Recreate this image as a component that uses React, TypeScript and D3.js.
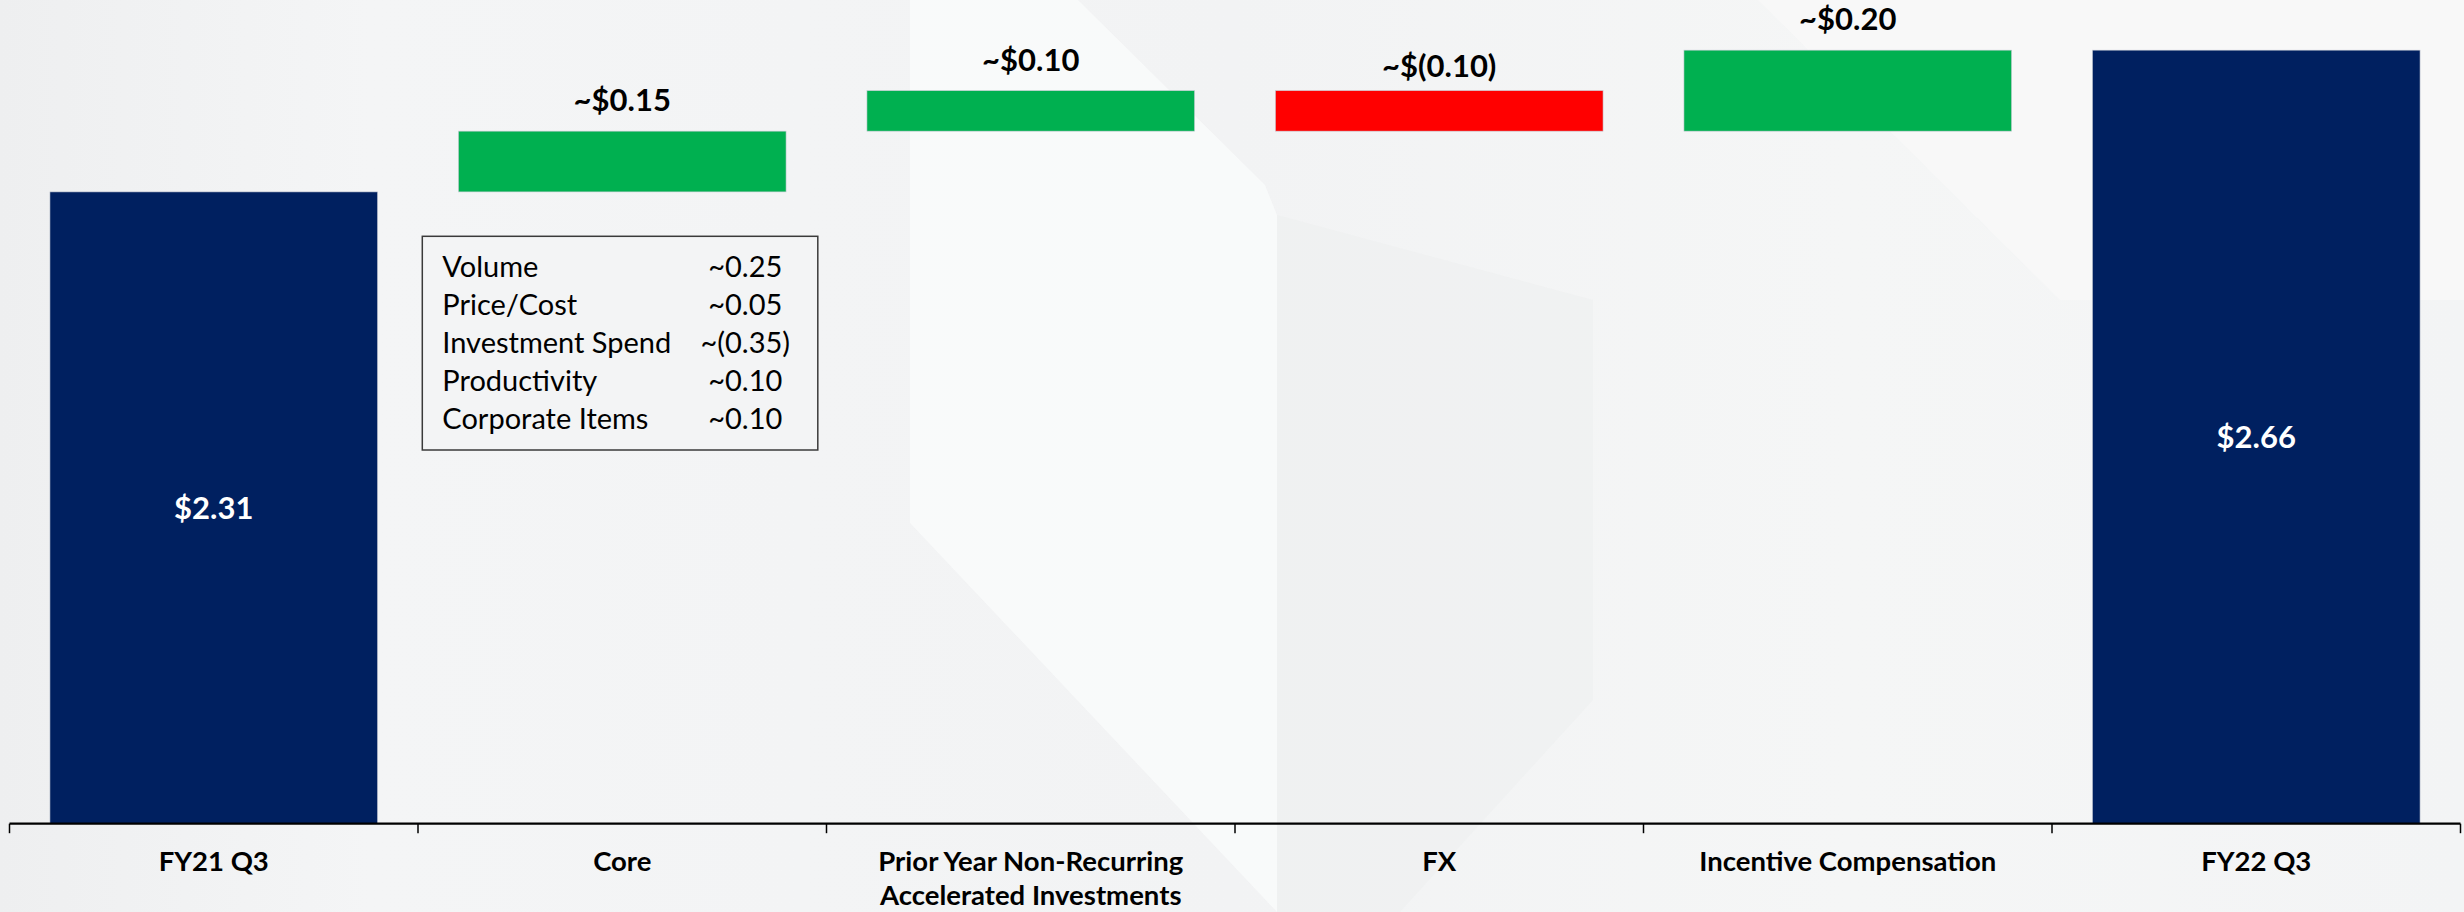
import React from "react";
import * as d3 from "d3";

const categories = ["FY21 Q3", "Core", "Prior Year Non-Recurring Accelerated Investments", "FX", "Incentive Compensation", "FY22 Q3"];
const categoryLines = [["FY21 Q3"], ["Core"], ["Prior Year Non-Recurring", "Accelerated Investments"], ["FX"], ["Incentive Compensation"], ["FY22 Q3"]];
const barKinds = ["total", "delta", "delta", "delta", "delta", "total"];
const barValues = [2.31, 0.15, 0.10, -0.10, 0.20, 2.66];
const barLabels = ["$2.31", "~$0.15", "~$0.10", "~$(0.10)", "~$0.20", "$2.66"];
const coreItems = ["Volume", "Price/Cost", "Investment Spend", "Productivity", "Corporate Items"];
const coreItemValues = ["~0.25", "~0.05", "~(0.35)", "~0.10", "~0.10"];

const W = 2464;
const H = 912;
const FONT = "Lato, 'Open Sans', 'Noto Sans', sans-serif";

export default function App() {
  const x = d3.scaleBand<string>().domain(categories).range([9.5, 2460.5]).padding(0);
  const y = d3.scaleLinear().domain([0.75, 2.75]).range([823.7, 13.7]);
  const barW = x.bandwidth() * 0.802;

  let running = 0;
  const bars = barValues.map((v, i) => {
    const cx = (x(categories[i]) as number) + x.bandwidth() / 2;
    if (barKinds[i] === "total") {
      running = v;
      return { cx, top: y(v), bottom: y(y.domain()[0]), color: "#002060", v, kind: "total" };
    }
    const start = running;
    running += v;
    const hi = Math.max(start, running);
    const lo = Math.min(start, running);
    return { cx, top: y(hi), bottom: y(lo), color: v >= 0 ? "#00B050" : "#FF0000", v, kind: "delta" };
  });

  const axisY = y(y.domain()[0]);
  const ticks = d3.range(categories.length + 1).map((i) => x.range()[0] + i * x.step());

  const boxX = 422.3, boxY = 236.3, boxW = 395.5, boxH = 213.7;
  const rowStep = 38.1;

  return (
    <svg width={W} height={H} style={{ position: "absolute", left: 0, top: 0, display: "block" }}>
      <defs>
        <linearGradient id="bg" x1="0" y1="0" x2="1" y2="0">
          <stop offset="0" stopColor="#eeeff0" />
          <stop offset="0.15" stopColor="#f4f5f6" />
          <stop offset="0.5" stopColor="#f2f3f4" />
          <stop offset="0.75" stopColor="#f5f6f6" />
          <stop offset="1" stopColor="#f3f4f5" />
        </linearGradient>
      </defs>
      <rect x={0} y={0} width={W} height={H} fill="url(#bg)" />
      <polygon points="910,0 1078,0 1265,185 1277,215 1277,912 910,523" fill="#f9fafa" opacity={0.85} />
      <polygon points="1277,215 1593,300 1593,700 1400,912 1277,912" fill="#edeeef" opacity={0.55} />
      <polygon points="1758,0 2464,0 2464,300 2060,300" fill="#fafafa" opacity={0.7} />

      {bars.map((b, i) => (
        <rect key={"bar" + i} x={b.cx - barW / 2} y={b.top} width={barW} height={b.bottom - b.top} fill={b.color} stroke="#c8ccd4" strokeWidth={0.6} />
      ))}

      {bars.map((b, i) =>
        b.kind === "total" ? (
          <text key={"lbl" + i} x={b.cx} y={(b.top + b.bottom) / 2 + 11} textAnchor="middle" fontFamily={FONT} fontWeight={700} fontSize={31} fill="#ffffff">
            {barLabels[i]}
          </text>
        ) : (
          <text key={"lbl" + i} x={b.cx} y={b.top - (b.v >= 0 ? 20 : 14)} textAnchor="middle" fontFamily={FONT} fontWeight={700} fontSize={31} fill="#000000">
            {barLabels[i]}
          </text>
        )
      )}

      <rect x={boxX} y={boxY} width={boxW} height={boxH} fill="#f3f4f5" stroke="#3a3a3a" strokeWidth={1.5} />
      {coreItems.map((t, i) => (
        <g key={"core" + i}>
          <text x={boxX + 20} y={boxY + 40.4 + i * rowStep} fontFamily={FONT} fontSize={29} fill="#000000">{t}</text>
          <text x={boxX + 323} y={boxY + 40.4 + i * rowStep} textAnchor="middle" fontFamily={FONT} fontSize={29} fill="#000000">{coreItemValues[i]}</text>
        </g>
      ))}

      <line x1={x.range()[0]} x2={x.range()[1]} y1={axisY} y2={axisY} stroke="#000000" strokeWidth={2.2} />
      {ticks.map((t, i) => (
        <line key={"tick" + i} x1={t} x2={t} y1={axisY} y2={axisY + 9.5} stroke="#000000" strokeWidth={1.5} />
      ))}

      {categoryLines.map((lines, i) => {
        const cx = (x(categories[i]) as number) + x.bandwidth() / 2;
        return (
          <text key={"cat" + i} x={cx} y={870.5} textAnchor="middle" fontFamily={FONT} fontWeight={700} fontSize={27.5} fill="#000000">
            {lines.map((l, j) => (
              <tspan key={j} x={cx} dy={j === 0 ? 0 : 34}>{l}</tspan>
            ))}
          </text>
        );
      })}
    </svg>
  );
}
